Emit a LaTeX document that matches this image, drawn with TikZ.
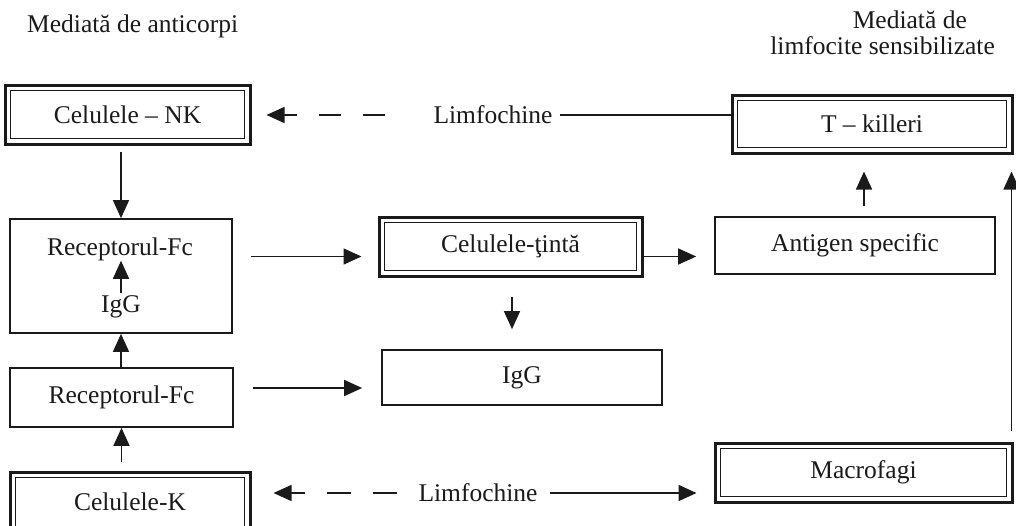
\documentclass[tikz,border=0pt]{standalone}
\usepackage{fontspec}
\setmainfont{Liberation Serif}
\usetikzlibrary{arrows.meta}
\definecolor{ink}{HTML}{1A1A1A}
\begin{document}
\begin{tikzpicture}[x=1pt,y=-1pt,
  every node/.style={inner sep=0pt, text=ink, font=\fontsize{25.5}{28}\selectfont},
  sbox/.style={draw=ink, line width=1.7pt},
  dbox/.style={draw=ink, line width=3pt,
    path picture={\draw[ink, line width=1.5pt]
      ([shift={(5.5pt,-5.5pt)}]path picture bounding box.north west) rectangle
      ([shift={(-5.5pt,5.5pt)}]path picture bounding box.south east);}},
  ln/.style={draw=ink, line width=1.5pt},
  arr/.style={ln, -{Triangle[length=18pt,width=16pt]}},
  dsh/.style={dash pattern=on 22pt off 22pt}]
\useasboundingbox (0,0) rectangle (1016,525);
\clip (0,0) rectangle (1016,525);
\fill[white] (0,0) rectangle (1016,525);

% column titles
\node[anchor=base west] (tleft) at (27,32) {Mediată de anticorpi};
\node[anchor=base east] (tright1) at (967,28) {Mediată de};
\node[anchor=base east] (tright2) at (995,54) {limfocite sensibilizate};

% left column
\node[dbox, minimum width=245pt, minimum height=59pt] (nk) at (127.5,114.5) {Celulele – NK};
\node[sbox, minimum width=222pt, minimum height=114pt] (big) at (121,276) {};
\node (rfa) at (120,249) {Receptorul-Fc};
\node (iga) at (121,307) {IgG};
\node[sbox, minimum width=223pt, minimum height=59pt] (rfb) at (121.5,397.5) {Receptorul-Fc};
\node[dbox, minimum width=240pt, minimum height=60pt] (kc) at (130,502) {Celulele-K};

% middle column
\node[dbox, minimum width=263pt, minimum height=59pt] (tinta) at (510.5,246.5) {Celulele-ţintă};
\node[sbox, minimum width=280pt, minimum height=55pt] (igg) at (522,377.5) {IgG};
\node (lima) at (493,115) {Limfochine};
\node (limb) at (478,493) {Limfochine};

% right column
\node[dbox, minimum width=280pt, minimum height=58pt] (tk) at (872,124) {T – killeri};
\node[sbox, minimum width=280pt, minimum height=57pt] (ant) at (855,245.5) {Antigen specific};
\node[dbox, minimum width=297pt, minimum height=59pt] (mac) at (863.5,472.5) {Macrofagi};

% top row
\draw[arr, dsh, shorten <=48pt, shorten >=15pt] (lima.west) -- (nk.east |- lima.west);
\draw[ln, shorten <=7pt] (lima.east) -- (tk.west |- lima.east);

% left column links
\draw[arr, shorten <=6pt] (big.north |- nk.south) -- (big.north);
\draw[arr, shorten <=3pt] (iga.north) -- (iga.north |- rfa.south);
\draw[arr] (big.south |- rfb.north) -- (big.south);
\draw[arr, shorten <=9pt] (rfb.south |- kc.north) -- (rfb.south);

% links to the middle column
\coordinate (ya) at ([yshift=-10pt]tinta.west);
\draw[arr, shorten <=18pt, shorten >=16pt] (big.east |- ya) -- (ya);
\draw[arr, shorten >=18pt] (tinta.east |- ya) -- (ant.west |- ya);
\draw[arr, shorten <=19pt, shorten >=20pt] ([xshift=1.5pt]tinta.south) -- ([xshift=1.5pt]tinta.south |- igg.north);
\coordinate (yb) at ([yshift=9.5pt]rfb.east);
\draw[arr, shorten <=19pt, shorten >=19pt] (yb) -- (igg.west |- yb);

% right column links
\draw[arr, shorten <=10pt, shorten >=17pt] ([xshift=9pt]ant.north) -- ([xshift=9pt]ant.north |- tk.south);
\draw[arr, shorten <=11pt, shorten >=17pt] ([xshift=-2pt]mac.north east) -- ([xshift=-2pt]mac.north east |- tk.south);

% bottom row
\draw[arr, dash pattern=on 24pt off 22pt, shorten <=21pt, shorten >=22pt] (limb.west) -- (kc.east |- limb.west);
\draw[arr, shorten <=12pt, shorten >=17pt] (limb.east) -- (mac.west |- limb.east);
\end{tikzpicture}
\end{document}
